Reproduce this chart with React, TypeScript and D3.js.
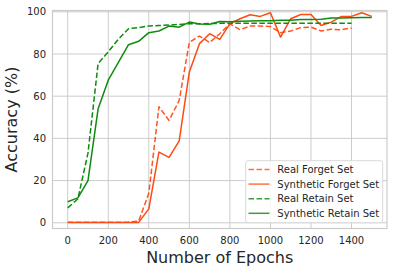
import React from "react";
import * as d3 from "d3";

const epochsReal = [0,50,100,150,200,250,300,350,400,450,500,550,600,650,700,750,800,850,900,950,1000,1050,1100,1150,1200,1250,1300,1350,1400];
const epochsSyn = [0,50,100,150,200,250,300,350,400,450,500,550,600,650,700,750,800,850,900,950,1000,1050,1100,1150,1200,1250,1300,1350,1400,1450,1500];

const realForget = [0.3,0.3,0.3,0.3,0.3,0.3,0.3,0.8,14,55,48.5,58,85.5,88.5,85.4,89.6,94.3,91.5,93.2,93.2,93,90.1,90.9,92.5,92.7,90.9,91.7,91.5,92.3];
const synForget = [0.2,0.2,0.2,0.2,0.2,0.2,0.2,0.2,6.6,33.5,31,38.8,71.5,84.9,89.6,86.9,94.3,96.7,98.6,97.8,99.5,88,96.7,98.7,98.7,93.5,95.1,97.8,97.8,99.5,97.8];
const realRetain = [7.1,11.3,33,75.5,81,87,92,92.5,93.3,93.5,93.7,94,94.3,94.3,94.4,94.5,94.5,94.5,94.6,94.6,94.6,94.6,94.6,94.6,94.6,94.6,94.6,94.6,94.6];
const synRetain = [10,11.8,20,54,67.6,76,84.4,86,90.1,90.9,93.2,92.7,95.1,94.2,94.1,95.4,95.3,95.5,95.6,95.8,95.8,96,96,96.3,96.3,96.5,97,97,97.2,97.3,97.3];

const xTicks = [0,200,400,600,800,1000,1200,1400];
const yTicks = [0,20,40,60,80,100];

const seriesNames = ["Real Forget Set","Synthetic Forget Set","Real Retain Set","Synthetic Retain Set"];

export default function App() {
  const W = 394, H = 271;
  const left = 52.5, right = 387, top = 10.5, bottom = 228.5;
  const x = d3.scaleLinear().domain([-75, 1575]).range([left, right]);
  const y = d3.scaleLinear().domain([-2.7, 100.6]).range([bottom, top]);
  const line = d3.line<[number, number]>().x(d => x(d[0])).y(d => y(d[1]));
  const font = "DejaVu Sans, sans-serif";
  const tc = "#262626";

  const series = [
    { name: seriesNames[0], xs: epochsReal, ys: realForget, color: "#ff5522", dash: "5.5,2.5", lc: "#ff7340" },
    { name: seriesNames[1], xs: epochsSyn, ys: synForget, color: "#ff4a12", dash: "", lc: "#ff7340" },
    { name: seriesNames[2], xs: epochsReal, ys: realRetain, color: "#108a10", dash: "5.5,2.5", lc: "#3d9d3d" },
    { name: seriesNames[3], xs: epochsSyn, ys: synRetain, color: "#108a10", dash: "", lc: "#3d9d3d" },
  ];

  return (
    <svg width={W} height={H} style={{ position: "absolute", left: 0, top: 0 }}>
      <rect x={0} y={0} width={W} height={H} fill="#fff" />
      {xTicks.map(t => (
        <line key={"gx" + t} x1={x(t)} x2={x(t)} y1={top} y2={bottom} stroke="#cccccc" strokeWidth={1} />
      ))}
      {yTicks.map(t => (
        <line key={"gy" + t} x1={left} x2={right} y1={y(t)} y2={y(t)} stroke="#cccccc" strokeWidth={1} />
      ))}
      <rect x={left} y={top} width={right - left} height={bottom - top} fill="none" stroke="#cccccc" strokeWidth={1.2} />
      {series.map(s => (
        <path key={s.name} d={line(s.xs.map((e, i) => [e, s.ys[i]] as [number, number])) || ""}
          fill="none" stroke={s.color} strokeWidth={1.5} strokeDasharray={s.dash || undefined} strokeLinejoin="round" />
      ))}
      {xTicks.map(t => (
        <text key={"tx" + t} x={x(t)} y={244} textAnchor="middle" fontFamily={font} fontSize={10} fill={tc}>{t}</text>
      ))}
      {yTicks.map(t => (
        <text key={"ty" + t} x={46} y={y(t) + 3.6} textAnchor="end" fontFamily={font} fontSize={10} fill={tc}>{t}</text>
      ))}
      <text x={(left + right) / 2} y={263} textAnchor="middle" fontFamily={font} fontSize={16} fill={tc}>Number of Epochs</text>
      <text transform={`translate(17,${(top + bottom) / 2}) rotate(-90)`} textAnchor="middle" fontFamily={font} fontSize={16} fill={tc}>Accuracy (%)</text>
      <g>
        <rect x={245.7} y={160.7} width={137} height={62} rx={2.5} fill="#ffffff" fillOpacity={0.85} stroke="#d9d9d9" strokeWidth={1} />
        {series.map((s, i) => (
          <g key={"lg" + i}>
            <line x1={248.5} x2={269.5} y1={169.5 + i * 14.6} y2={169.5 + i * 14.6} stroke={s.lc} strokeWidth={1.5} strokeDasharray={s.dash || undefined} />
            <text x={277.3} y={169.5 + i * 14.6 + 3.6} fontFamily={font} fontSize={10} fill={tc}>{s.name}</text>
          </g>
        ))}
      </g>
    </svg>
  );
}
